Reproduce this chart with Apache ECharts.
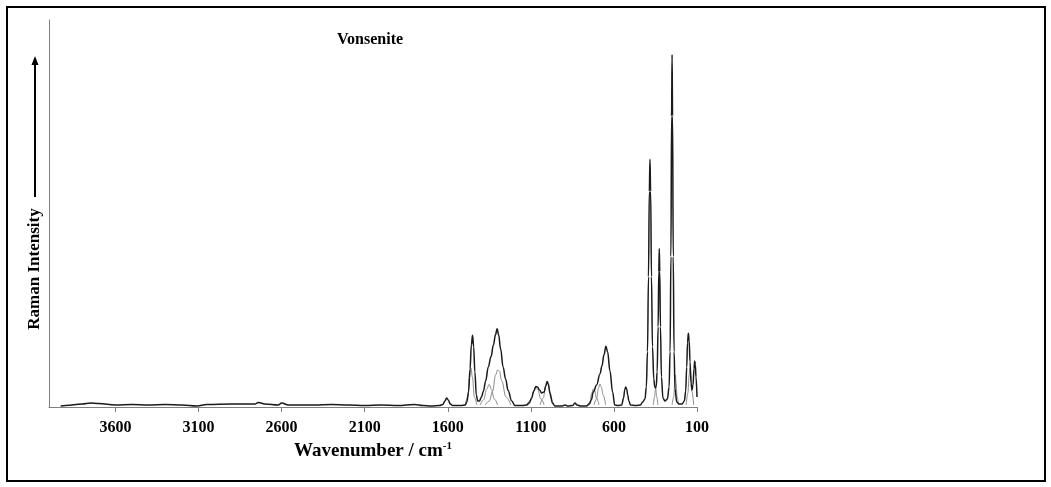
<!DOCTYPE html>
<html>
<head>
<meta charset="utf-8">
<title>Vonsenite</title>
<script src="https://cdn.jsdelivr.net/npm/echarts@6.0.0/dist/echarts.min.js"></script>
<style>
  html, body { margin: 0; padding: 0; background: #fff; }
  #chart { width: 1051px; height: 487px; }
</style>
</head>
<body>
<div id="chart"></div>
<script>
// tick labels on the wavenumber axis
const xTicks = [3600, 3100, 2600, 2100, 1600, 1100, 600, 100]

const spectrum = [
  [100, 10], [106, 30], [110, 42], [114, 46], [118, 38], [124, 22], [130, 17], [136, 24],
  [142, 45], [147, 66], [152, 73.5], [157, 64], [162, 40], [168, 16], [176, 6], [190, 3],
  [210, 3], [222, 5], [232, 18], [238, 55], [243, 150], [247, 290], [250, 351.5], [253, 290],
  [257, 150], [262, 55], [268, 20], [278, 8], [293, 6], [305, 9], [314, 30], [320, 80],
  [324, 135], [327, 158], [330, 135], [334, 80], [340, 35], [345, 21], [349, 19], [354, 20],
  [360, 28], [368, 60], [374, 130], [379, 215], [383, 247], [387, 215], [392, 130], [398, 55],
  [405, 20], [413, 8], [427, 5], [440, 2], [470, 1.5], [500, 2], [510, 6], [517, 12],
  [523, 18], [529, 20], [535, 17], [542, 9], [553, 2], [575, 1.5], [595, 2], [608, 15],
  [624, 36], [638, 55], [648, 60.5], [660, 52], [672, 41], [684, 33], [704, 22], [724, 15],
  [736, 7], [748, 3], [765, 1], [800, 1], [822, 2], [835, 4], [848, 1.5], [880, 1],
  [895, 2], [910, 1], [955, 1], [970, 4], [985, 14], [995, 23], [1002, 25.5], [1010, 21],
  [1020, 15], [1035, 14], [1048, 17], [1060, 20], [1070, 20.5], [1082, 16], [1095, 9], [1110, 4],
  [1125, 2], [1150, 1.5], [1196, 1.5], [1215, 6], [1237, 16.5], [1252, 28], [1267, 40], [1282, 58],
  [1294, 72], [1303, 78], [1313, 72], [1325, 62], [1340, 50], [1356, 40], [1372, 26], [1385, 16],
  [1397, 10], [1410, 6], [1420, 6], [1428, 12], [1437, 35], [1444, 60], [1451, 71.5], [1458, 62],
  [1466, 38], [1475, 15], [1485, 5], [1495, 2], [1520, 1.5], [1570, 1.5], [1585, 3], [1597, 7],
  [1607, 9], [1617, 6], [1630, 2.5], [1650, 1.5], [1700, 1], [1750, 1.5], [1800, 2.5], [1900, 1.5],
  [2000, 2], [2100, 1.5], [2200, 2], [2300, 2.5], [2400, 2], [2500, 2], [2560, 2], [2600, 4],
  [2620, 2], [2700, 3], [2740, 4.5], [2760, 3], [2900, 3], [3050, 2.5], [3110, 1], [3200, 2],
  [3300, 2.5], [3400, 2], [3500, 2.5], [3600, 2], [3700, 3.5], [3750, 4], [3800, 3], [3900, 1.5],
  [3930, 1]
]

// fitted component bands (grey)
const band142 = [[120, 2], [130, 15], [137, 32], [142, 38.5], [147, 32], [155, 14], [165, 2]]
const band230 = [[210, 2], [220, 10], [226, 24], [230, 32], [234, 24], [240, 10], [250, 2]]
const band349 = [[335, 2], [342, 10], [349, 18.5], [356, 10], [363, 2]]
const band684 = [[650, 2], [665, 12], [676, 20], [684, 23], [692, 19], [705, 8], [720, 2]]
const band724 = [[690, 2], [705, 9], [716, 16], [724, 18], [733, 14], [745, 5], [760, 1]]
const band1002 = [[965, 2], [980, 9], [993, 21], [1002, 25.5], [1012, 20], [1025, 9], [1045, 2]]
const band1070 = [[1020, 2], [1040, 8], [1058, 17], [1070, 20.5], [1082, 16], [1100, 7], [1125, 2]]
const band1297 = [[1220, 2], [1250, 10], [1275, 26], [1290, 36], [1300, 37], [1312, 32], [1330, 16], [1350, 6], [1375, 2]]
const band1351 = [[1300, 2], [1320, 8], [1338, 18], [1351, 22.5], [1365, 18], [1385, 7], [1405, 2]]
const band1460 = [[1425, 2], [1440, 10], [1452, 30], [1460, 39], [1468, 30], [1480, 10], [1495, 2]]

const bands = [band142, band230, band349, band684, band724, band1002, band1070, band1297, band1351, band1460]

const font = '"Liberation Serif", "Times New Roman", serif'
const chart = echarts.init(document.getElementById('chart'))

const series = bands.map(function (b) {
  return {
    type: 'line',
    data: b,
    showSymbol: false,
    smooth: 0.4,
    smoothMonotone: 'x',
    silent: true,
    lineStyle: { color: '#8c8c8c', width: 1 }
  }
})
series.push({
  type: 'line',
  data: spectrum,
  showSymbol: false,
  smooth: 0.4,
  smoothMonotone: 'x',
  lineStyle: { color: '#1a1a1a', width: 1.5 }
})

const option = {
  animation: false,
  backgroundColor: '#fff',
  title: {
    text: 'Vonsenite',
    left: 337,
    top: 32,
    padding: 0,
    textStyle: { fontFamily: font, fontWeight: 'bold', fontSize: 16, color: '#000' }
  },
  grid: { left: 49, right: 354, top: 20, bottom: 80 },
  xAxis: {
    type: 'value',
    min: 100,
    max: 4000,
    inverse: true,
    name: '{a|Wavenumber / cm}{s|-1}',
    nameLocation: 'middle',
    nameGap: 31,
    nameTextStyle: {
      rich: {
        a: { fontFamily: font, fontWeight: 'bold', fontSize: 19, color: '#000', lineHeight: 20 },
        s: { fontFamily: font, fontWeight: 'bold', fontSize: 11, color: '#000', verticalAlign: 'top', lineHeight: 20 }
      }
    },
    axisLine: { lineStyle: { color: '#808080', width: 1 } },
    axisTick: { show: true, length: 5, customValues: xTicks, lineStyle: { color: '#808080' } },
    axisLabel: {
      customValues: xTicks,
      formatter: function (v) { return String(v) },
      margin: 13,
      fontFamily: font,
      fontWeight: 'bold',
      fontSize: 16,
      color: '#000'
    },
    splitLine: { show: false }
  },
  yAxis: {
    type: 'value',
    min: 0,
    max: 386,
    axisLine: { show: true, lineStyle: { color: '#808080', width: 1 } },
    axisTick: { show: false },
    axisLabel: { show: false },
    splitLine: { show: false }
  },
  graphic: [
    {
      type: 'rect',
      shape: { x: 7, y: 7, width: 1038, height: 474 },
      style: { fill: null, stroke: '#000', lineWidth: 2 }
    },
    {
      type: 'text',
      x: 35,
      y: 269,
      rotation: Math.PI / 2,
      style: {
        text: 'Raman Intensity',
        fontFamily: font,
        fontWeight: 'bold',
        fontSize: 17,
        fill: '#000',
        align: 'center',
        verticalAlign: 'middle'
      }
    },
    {
      type: 'line',
      shape: { x1: 35, y1: 197, x2: 35, y2: 63 },
      style: { stroke: '#000', lineWidth: 2 }
    },
    {
      type: 'polygon',
      shape: { points: [[35, 56], [31.5, 65], [38.5, 65]] },
      style: { fill: '#000' }
    }
  ],
  series: series
}

chart.setOption(option)
</script>
</body>
</html>
